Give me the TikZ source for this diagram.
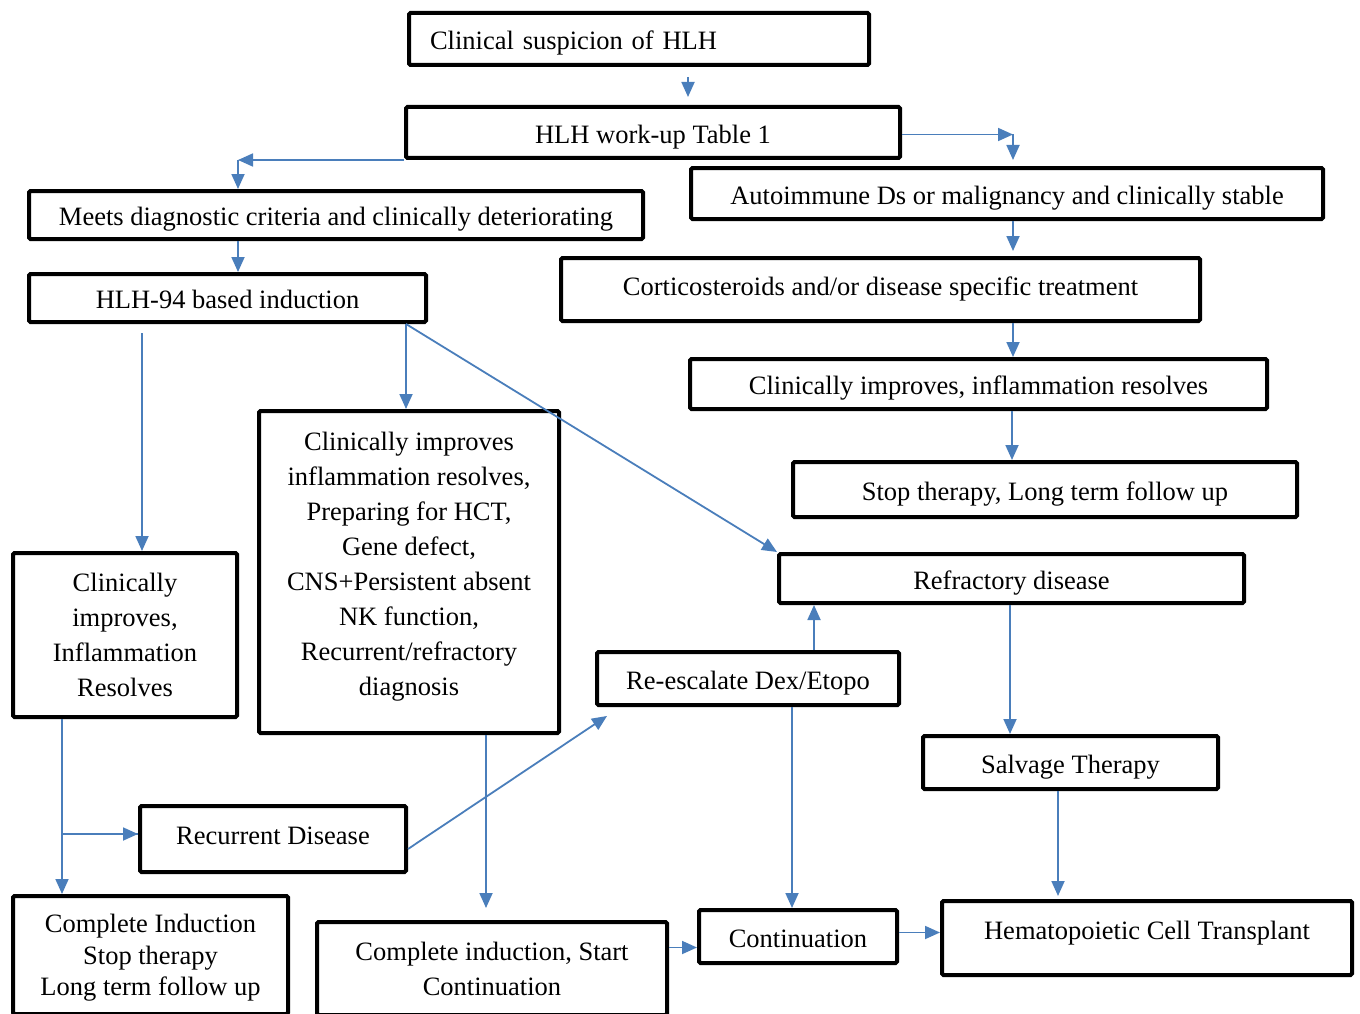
\documentclass[tikz,border=0pt]{standalone}
\usepackage{fontspec}
\setmainfont{Liberation Serif}
\usetikzlibrary{arrows.meta,positioning}
\definecolor{linkblue}{HTML}{4A7EBB}

\begin{document}
\begin{tikzpicture}[x=1pt,y=-1pt,every node/.style={font=\fontsize{26.5}{35}\selectfont},
 box/.style={draw,line width=4pt,rounded corners=1.5pt,align=center,inner sep=2pt},
 one/.style={text height=27pt,text depth=5.7pt},
 flow/.style={draw=linkblue,line width=1.8pt,-{Triangle[length=15pt,width=13pt]}}]

  \useasboundingbox (0,0) rectangle (1360,1014);
  \clip (0,0) rectangle (1360,1014);

  % top of the chart
  \node[box,one,minimum width=460pt,minimum height=52pt,text width=418pt,inner xsep=21pt,align=left] (susp) at (639,39) {Clinical suspicion of HLH};
  \node[box,one,minimum width=494pt,minimum height=51pt] (workup) at (653,132.5) {HLH work-up Table 1};
  \node[box,one,minimum width=614pt,minimum height=48pt] (meets) at (336,215) {Meets diagnostic criteria and clinically deteriorating};
  \node[box,one,minimum width=632pt,minimum height=51pt] (auto) at (1007,193.5) {Autoimmune Ds or malignancy and clinically stable};
  \node[box,one,minimum width=397pt,minimum height=48pt] (ind) at (227.5,298) {HLH-94 based induction};

  % right branch
  \node[box,one,text depth=15.7pt,minimum width=639pt,minimum height=63pt] (cort) at (880.5,289.5) {Corticosteroids and/or disease specific treatment};
  \node[box,one,minimum width=577pt,minimum height=50pt] (impr) at (978.5,384) {Clinically improves, inflammation resolves};
  \node[box,one,minimum width=504pt,minimum height=55pt] (stop) at (1045,489.5) {Stop therapy, Long term follow up};
  \node[box,one,minimum width=465pt,minimum height=49pt] (refr) at (1011.5,578.5) {Refractory disease};
  \node[box,one,minimum width=295pt,minimum height=53pt] (salv) at (1070.5,762.5) {Salvage Therapy};
  \node[box,one,text depth=24pt,minimum width=410pt,minimum height=74pt] (hct) at (1147,938) {Hematopoietic Cell Transplant};

  % left and middle
  \node[box,minimum width=224pt,minimum height=164pt] (res) at (125,635) {Clinically\\improves,\\Inflammation\\Resolves};
  \node[box,minimum width=300pt,minimum height=322pt] (prep) at (409,572) {Clinically improves\\inflammation resolves,\\Preparing for HCT,\\Gene defect,\\CNS+Persistent absent\\NK function,\\Recurrent/refractory\\diagnosis\rule[-17pt]{0pt}{1pt}};
  \node[box,one,minimum width=302pt,minimum height=53pt] (resc) at (748,678.5) {Re-escalate Dex/Etopo};
  \node[box,one,text depth=16pt,minimum width=266pt,minimum height=66pt] (recur) at (273,839) {Recurrent Disease};
  \node[box,minimum width=275pt,minimum height=118pt,font=\fontsize{26.5}{31.5}\selectfont] (compl) at (150.5,955) {\rule{0pt}{24pt}Complete Induction\\Stop therapy\\Long term follow up};
  \node[box,minimum width=350pt,minimum height=93pt] (start) at (492,968.5) {Complete induction, Start\\Continuation};
  \node[box,one,minimum width=198pt,minimum height=53pt] (cont) at (798,936.5) {Continuation};

  % connectors
  \draw[flow,shorten <=10pt,shorten >=8pt] (688,0 |- susp.south) -- (688,0 |- workup.north);
  \draw[flow] (workup.south west) -- (238,0 |- workup.south west) coordinate (auxl);
  \draw[flow] (auxl) -- (auxl |- meets.north);
  \draw[flow] ([yshift=-2pt]workup.east) coordinate (auxr) -- (1013,0 |- auxr);
  \draw[flow,shorten >=6pt] (1013,0 |- auxr) -- (1013,0 |- auto.north);
  \draw[flow] (238,0 |- meets.south) -- (238,0 |- ind.north);
  \draw[flow,shorten >=5pt] (1013,0 |- auto.south) -- (1013,0 |- cort.north);
  \draw[flow] (1013,0 |- cort.south) -- (1013,0 |- impr.north);
  \draw[flow] (1012,0 |- impr.south) -- (1012,0 |- stop.north);

  \draw[flow,shorten <=9pt] (142,0 |- ind.south) -- (142,0 |- res.north);
  \draw[flow] (406,0 |- ind.south) -- (406,0 |- prep.north);
  \draw[flow] (406,0 |- ind.south) -- (refr.north west);

  \draw[flow] (62,0 |- res.south) -- (62,0 |- compl.north);
  \draw[flow] ([yshift=5pt]recur.west) coordinate (aux) -- (62,0 |- aux) -- (aux);
  \draw[flow] ([yshift=-10pt]recur.east) -- ([xshift=12pt,yshift=-9pt]resc.south west);
  \draw[flow,shorten >=12pt] (486,0 |- prep.south) -- (486,0 |- start.north);
  \draw[flow] ([yshift=21pt]start.east) coordinate (aux) -- (cont.west |- aux);

  \draw[flow] (814,0 |- resc.north) -- (814,0 |- refr.south);
  \draw[flow] (792,0 |- resc.south) -- (792,0 |- cont.north);
  \draw[flow] (1010,0 |- refr.south) -- (1010,0 |- salv.north);
  \draw[flow,shorten >=3pt] (1058,0 |- salv.south) -- (1058,0 |- hct.north);
  \draw[flow] ([yshift=4pt]cont.east) coordinate (aux) -- (hct.west |- aux);
\end{tikzpicture}
\end{document}
